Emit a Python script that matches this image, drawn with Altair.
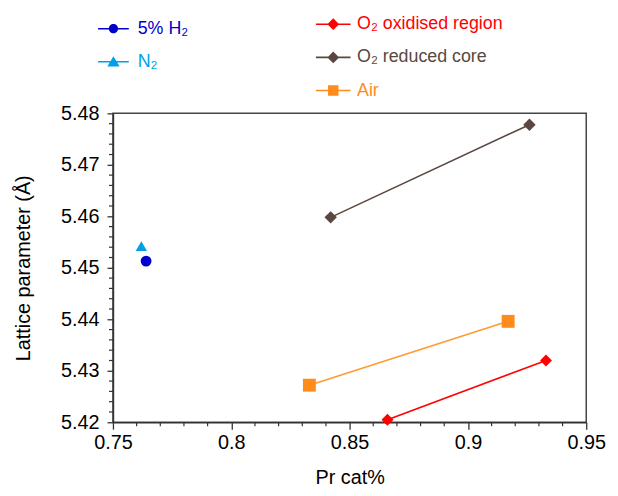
import altair as alt
import pandas as pd

# ---- data ----
series_names = ["5% H₂", "N₂", "O₂ oxidised region", "O₂ reduced core", "Air"]
h2_x = [0.764]
h2_y = [5.4513]
n2_x = [0.762]
n2_y = [5.4542]
ox_x = [0.866, 0.933]
ox_y = [5.4205, 5.4320]
core_x = [0.842, 0.926]
core_y = [5.4598, 5.4778]
air_x = [0.833, 0.917]
air_y = [5.4272, 5.4396]

x_major = [0.75, 0.80, 0.85, 0.90, 0.95]
x_minor = [0.76, 0.77, 0.78, 0.79, 0.81, 0.82, 0.83, 0.84, 0.86, 0.87, 0.88, 0.89,
           0.91, 0.92, 0.93, 0.94]
y_major = [5.42, 5.43, 5.44, 5.45, 5.46, 5.47, 5.48]
y_minor = [5.422, 5.424, 5.426, 5.428, 5.432, 5.434, 5.436, 5.438, 5.442, 5.444,
           5.446, 5.448, 5.452, 5.454, 5.456, 5.458, 5.462, 5.464, 5.466, 5.468,
           5.472, 5.474, 5.476, 5.478]

colors = ["#0000cc", "#00a0e6", "#ff0000", "#5a4840", "#ff8c1a"]
line_colors = ["#0000cc", "#00a0e6", "#ff0000", "#5a4840", "#ff9a33"]
shapes = ["circle", "triangle-up", "diamond", "diamond", "square"]
sizes = [120, 170, 140, 140, 160]

rows = []
for name, xs, ys in zip(series_names,
                        [h2_x, n2_x, ox_x, core_x, air_x],
                        [h2_y, n2_y, ox_y, core_y, air_y]):
    for i, (xv, yv) in enumerate(zip(xs, ys)):
        rows.append({"series": name, "x": xv, "y": yv, "order": i})
df = pd.DataFrame(rows)
xminor_df = pd.DataFrame({"v": x_minor})
yminor_df = pd.DataFrame({"v": y_minor})

FONT = "Liberation Sans"
AXC = "#333"

xscale = alt.Scale(domain=[0.75, 0.95], nice=False, zero=False)
yscale = alt.Scale(domain=[5.42, 5.48], nice=False, zero=False)

major_x_axis = alt.Axis(values=x_major, format=".2~f", title="Pr cat%", grid=False,
                        orient="bottom", tickSize=7, tickWidth=1.3, labelPadding=4,
                        titlePadding=15, labelFontSize=20, titleFontSize=20,
                        titleFontWeight="normal", labelFont=FONT, titleFont=FONT,
                        domainColor=AXC, domainWidth=1.5, tickColor=AXC,
                        labelColor="#000", titleColor="#000", labelFlush=False)
major_y_axis = alt.Axis(values=y_major, format=".2f", title="Lattice parameter (Å)",
                        grid=False, orient="left", tickSize=6, tickWidth=1.3,
                        labelPadding=8, titlePadding=27, labelFontSize=20,
                        titleFontSize=20, titleFontWeight="normal", labelFont=FONT,
                        titleFont=FONT, domainColor=AXC, domainWidth=1.5,
                        tickColor=AXC, labelColor="#000", titleColor="#000",
                        labelFlush=False)

data_color = alt.Scale(domain=series_names, range=line_colors)
point_color = alt.Scale(domain=series_names, range=colors)
shape_scale = alt.Scale(domain=series_names, range=shapes)
size_scale = alt.Scale(domain=series_names, range=sizes)

lines = alt.Chart(df).mark_line(strokeWidth=1.6).encode(
    x=alt.X("x:Q", scale=xscale, axis=None),
    y=alt.Y("y:Q", scale=yscale, axis=None),
    color=alt.Color("series:N", scale=data_color, legend=None),
    detail="series:N",
    order="order:Q",
)

points = alt.Chart(df).mark_point(filled=True, opacity=1).encode(
    x=alt.X("x:Q", scale=xscale, axis=major_x_axis),
    y=alt.Y("y:Q", scale=yscale, axis=major_y_axis),
    color=alt.Color("series:N", scale=point_color, legend=None),
    shape=alt.Shape("series:N", scale=shape_scale, legend=None),
    size=alt.Size("series:N", scale=size_scale, legend=None),
)

# minor tick marks (outside the plot area)
xminor = alt.Chart(xminor_df).mark_rule(color=AXC, strokeWidth=1.2).encode(
    x=alt.X("v:Q", scale=xscale, axis=None),
    y=alt.value(312), y2=alt.value(316),
)
yminor = alt.Chart(yminor_df).mark_rule(color=AXC, strokeWidth=1.2).encode(
    y=alt.Y("v:Q", scale=yscale, axis=None),
    x=alt.value(0), x2=alt.value(-4),
)


# legend symbols: a short line with the marker in the middle (unit square paths)
def sym(marker, w):
    t = w
    return (f"M-1,-{t}H-0.2V{t}H-1Z M0.2,-{t}H1V{t}H0.2Z " + marker)


circle_p = "M0.30,0A0.30,0.30 0 1,1 -0.30,0A0.30,0.30 0 1,1 0.30,0Z"
tri_p = "M0,-0.36L0.40,0.30L-0.40,0.30Z"
diam_p = "M0,-0.34L0.34,0L0,0.34L-0.34,0Z"
sq_p = "M-0.30,-0.30H0.30V0.30H-0.30Z"


def legend_layer(names, cols, paths, lx, ly, size, row_pad, offset):
    label_expr = " : ".join(
        [f"datum.value === '{n}' ? '{c}'" for n, c in zip(names[:-1], cols[:-1])]
        + [f"'{cols[-1]}'"])
    leg = alt.Legend(title=None, orient="none", legendX=lx, legendY=ly, padding=0,
                     symbolSize=size, labelFontSize=18, labelFont=FONT,
                     labelOffset=offset, rowPadding=row_pad, symbolStrokeWidth=0,
                     labelLimit=400, labelColor={"expr": label_expr})
    return alt.Chart(df).mark_point(filled=True, opacity=1).encode(
        color=alt.Color("series:N", scale=alt.Scale(domain=names, range=cols), legend=leg),
        shape=alt.Shape("series:N", scale=alt.Scale(domain=names, range=paths), legend=leg),
    ).transform_filter("false")


leg_left = legend_layer(series_names[:2], colors[:2],
                        [sym(circle_p, 0.05), sym(tri_p, 0.05)], -15, -101, 961, 8.5, 9)
leg_right = legend_layer(series_names[2:], colors[2:],
                         [sym(diam_p, 0.045), sym(diam_p, 0.045), sym(sq_p, 0.045)],
                         205, -107.5, 1225, 6.5, 6.5)

chart = alt.layer(xminor, yminor, lines, points, leg_left, leg_right).resolve_scale(
    color="independent", shape="independent", size="independent"
).resolve_axis(x="independent", y="independent").properties(
    width=478, height=312,
    autosize=alt.AutoSizeParams(type="none"),
    padding={"left": 106, "top": 104, "right": 24, "bottom": 64},
).configure_view(stroke="#444", strokeWidth=1.5)

chart.save("out.html", embed_options={"renderer": "svg", "actions": False})
